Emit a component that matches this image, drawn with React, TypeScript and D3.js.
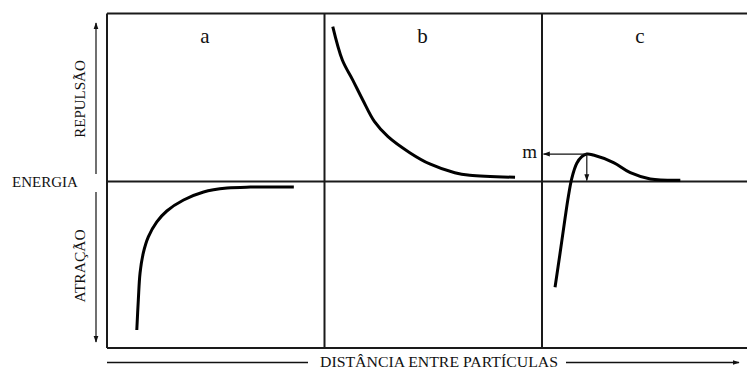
import React from "react";
import * as d3 from "d3";

// Panel labels
const panelLabels = ["a", "b", "c"];

// Curve a: attraction only (distance, energy)
const curveA: [number, number][] = [
  [13.7, -88.1], [14.4, -70.3], [15.2, -54.3], [16.7, -42.4], [19.0, -32.9],
  [22.9, -24.0], [27.5, -17.5], [35.2, -11.0], [44.4, -6.2], [55.2, -3.9],
  [65.9, -3.3], [85.9, -3.3],
];

// Curve b: repulsion only
const curveB: [number, number][] = [
  [3.8, 91.9], [8.2, 72.1], [13.0, 60.2], [17.6, 48.4], [23.0, 35.5],
  [29.2, 26.6], [39.2, 17.1], [48.4, 10.4], [59.9, 5.2], [66.8, 3.7],
  [87.6, 2.5],
];

// Curve c: combined, with maximum m
const curveC: [number, number][] = [
  [6.0, -62.8], [8.3, -42.6], [10.6, -21.8], [12.1, -9.0], [13.7, 1.9],
  [16.0, 10.8], [18.3, 14.7], [20.6, 16.3], [23.6, 15.7], [32.9, 11.2],
  [40.6, 5.2], [49.8, 1.5], [63.6, 0.7],
];

const peakC: [number, number] = [20.6, 16.3];

const curves = [curveA, curveB, curveC];

const W = 747;
const H = 369;
const left = 107;
const top = 13.5;
const bottom = 348;
const panelW = 217.5;
const font = '"Liberation Serif", "Times New Roman", "DejaVu Serif", serif';
const ts = { fontFamily: font };

export default function App() {
  const y = d3.scaleLinear().domain([-100, 100]).range([350, 13]);
  const xs = [0, 1, 2].map((i) =>
    d3.scaleLinear().domain([0, 100]).range([left + i * panelW, left + (i + 1) * panelW])
  );
  const mid = y(0);

  const paths = curves.map((c, i) =>
    d3
      .line<[number, number]>()
      .x((d) => xs[i](d[0]))
      .y((d) => y(d[1]))
      .curve(d3.curveCatmullRom.alpha(0.5))(c)
  );

  const px = xs[2](peakC[0]);
  const py = y(peakC[1]);

  return (
    <svg
      width={W}
      height={H}
      style={{ position: "absolute", left: 0, top: 0, background: "#fff" }}
    >
      <defs>
        <marker id="ah" viewBox="0 0 10 10" refX="9" refY="5" markerWidth="7" markerHeight="7" orient="auto-start-reverse" markerUnits="userSpaceOnUse">
          <path d="M0,1.5 L10,5 L0,8.5 Z" fill="#111" />
        </marker>
      </defs>

      {/* frame */}
      <g stroke="#1a1a1a" strokeWidth={2} fill="none">
        <line x1={left} x2={W} y1={top} y2={top} />
        <line x1={left} x2={W} y1={bottom} y2={bottom} />
        <line x1={left} x2={left} y1={top} y2={bottom} />
        <line x1={left + panelW} x2={left + panelW} y1={top} y2={bottom} />
        <line x1={left + 2 * panelW} x2={left + 2 * panelW} y1={top} y2={bottom} />
        <line x1={left} x2={W} y1={mid} y2={mid} />
      </g>

      {/* curves */}
      {paths.map((d, i) => (
        <path key={i} d={d || ""} fill="none" stroke="#000" strokeWidth={3} strokeLinecap="butt" strokeLinejoin="round" />
      ))}

      {/* panel labels */}
      {panelLabels.map((t, i) => (
        <text key={t} x={xs[i](45)} y={43} fontSize={21} textAnchor="middle" fill="#111" style={ts}>
          {t}
        </text>
      ))}

      {/* m arrows */}
      <line x1={px} y1={py} x2={xs[2](0) + 1.5} y2={py} stroke="#111" strokeWidth={1.2} markerEnd="url(#ah)" />
      <line x1={px} y1={py} x2={px} y2={mid - 1} stroke="#111" strokeWidth={1.2} markerEnd="url(#ah)" />
      <text x={537} y={158} fontSize={19} textAnchor="end" fill="#111" style={ts}>m</text>

      {/* energy axis */}
      <line x1={96} x2={96} y1={174} y2={23} stroke="#111" strokeWidth={1.2} markerEnd="url(#ah)" />
      <line x1={96} x2={96} y1={192} y2={342} stroke="#111" strokeWidth={1.2} markerEnd="url(#ah)" />
      <text x={12} y={187} fontSize={15} fill="#111" style={ts}>ENERGIA</text>
      <text transform="translate(85,99) rotate(-90)" fontSize={15} textAnchor="middle" fill="#111" style={ts}>REPULSÃO</text>
      <text transform="translate(85,266) rotate(-90)" fontSize={15.5} textAnchor="middle" fill="#111" style={ts}>ATRAÇÃO</text>

      {/* distance axis */}
      <line x1={left} x2={308} y1={362.5} y2={362.5} stroke="#111" strokeWidth={1.3} />
      <text x={320} y={366.5} fontSize={15} fill="#111" textLength={238} lengthAdjust="spacingAndGlyphs" style={ts}>DISTÂNCIA ENTRE PARTÍCULAS</text>
      <line x1={566} x2={739} y1={362.5} y2={362.5} stroke="#111" strokeWidth={1.3} markerEnd="url(#ah)" />
    </svg>
  );
}
